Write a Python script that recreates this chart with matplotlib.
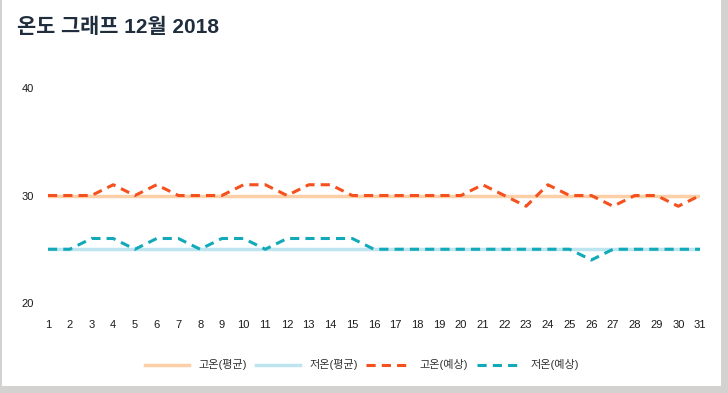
import matplotlib
matplotlib.use("Agg")
import matplotlib.pyplot as plt
from matplotlib.patches import Rectangle

plt.rcParams['font.family'] = ['Liberation Sans', 'Noto Sans CJK KR', 'DejaVu Sans']

days = list(range(1, 32))
high_avg = [30] * 31
low_avg = [25] * 31
high_fc = [30, 30, 30, 31, 30, 31, 30, 30, 30, 31, 31, 30, 31, 31, 30, 30,
           30, 30, 30, 30, 31, 30, 29, 31, 30, 30, 29, 30, 30, 29, 30]
low_fc = [25, 25, 26, 26, 25, 26, 26, 25, 26, 26, 25, 26, 26, 26, 26, 25,
          25, 25, 25, 25, 25, 25, 25, 25, 25, 24, 25, 25, 25, 25, 25]
yticks = [20, 30, 40]
title = "온도 그래프 12월 2018"
labels = ["고온(평균)", "저온(평균)", "고온(예상)", "저온(예상)"]

W, H = 728, 393
fig = plt.figure(figsize=(W / 100, H / 100), dpi=100)
fig.patch.set_facecolor('#d4d1d1')
fig.patches.append(Rectangle((2 / W, 7 / H), 719 / W, 1 - 7 / H,
                             transform=fig.transFigure, facecolor='white',
                             edgecolor='none', zorder=-10))

ax = fig.add_axes([48 / W, 1 - 303 / H, 652 / W, 215 / H])
ax.set_facecolor('none')
ax.set_zorder(5)
ax.plot(days, high_avg, color='#fdcfa6', lw=2.5, label=labels[0], zorder=1)
ax.plot(days, low_avg, color='#bde4ef', lw=2.5, label=labels[1], zorder=1)
ax.plot(days, high_fc, color='#f4511e', lw=2.2, ls=(0, (3, 2)), label=labels[2], zorder=2)
ax.plot(days, low_fc, color='#12a9b8', lw=2.2, ls=(0, (3, 2)), label=labels[3], zorder=2)

ax.set_xlim(1, 31)
ax.set_ylim(20, 40)
ax.set_xticks(days)
ax.set_yticks(yticks)
ax.tick_params(axis='both', length=0, labelsize=8, colors='#1a1a1a')
ax.tick_params(axis='x', pad=12)
ax.tick_params(axis='y', pad=10)
for s in ax.spines.values():
    s.set_visible(False)

fig.text(17 / W, 1 - 27 / H, title, fontsize=15, fontweight='bold',
         color='#1f2d3d', va='center', ha='left', zorder=5)

leg = fig.legend(loc='center', bbox_to_anchor=(362 / W, 1 - 365 / H), ncol=4,
                 frameon=False, fontsize=8, handlelength=4, columnspacing=0.8,
                 handletextpad=0.8)
leg.set_zorder(5)
for t in leg.get_texts():
    t.set_color('#333333')

fig.savefig('out.png', dpi=100)
